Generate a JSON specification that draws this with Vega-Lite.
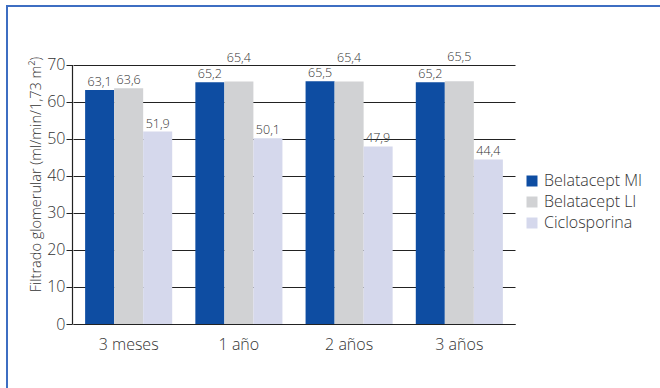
{
  "$schema": "https://vega.github.io/schema/vega-lite/v6.json",
  "autosize": "none",
  "padding": {"left": 7, "top": 6, "right": -6, "bottom": -6},
  "width": 659,
  "height": 388,
  "config": {
    "font": "Open Sans",
    "view": {"stroke": "#3D6EC2", "strokeWidth": 2},
    "locale": {
      "number": {"decimal": ",", "thousands": ".", "grouping": [3], "currency": ["", " €"]}
    }
  },
  "data": {
    "values": [
      {"periodo": "3 meses", "grupo": "Belatacept MI", "valor": 63.1},
      {"periodo": "3 meses", "grupo": "Belatacept LI", "valor": 63.6},
      {"periodo": "3 meses", "grupo": "Ciclosporina", "valor": 51.9},
      {"periodo": "1 año", "grupo": "Belatacept MI", "valor": 65.2},
      {"periodo": "1 año", "grupo": "Belatacept LI", "valor": 65.4},
      {"periodo": "1 año", "grupo": "Ciclosporina", "valor": 50.1},
      {"periodo": "2 años", "grupo": "Belatacept MI", "valor": 65.5},
      {"periodo": "2 años", "grupo": "Belatacept LI", "valor": 65.4},
      {"periodo": "2 años", "grupo": "Ciclosporina", "valor": 47.9},
      {"periodo": "3 años", "grupo": "Belatacept MI", "valor": 65.2},
      {"periodo": "3 años", "grupo": "Belatacept LI", "valor": 65.5},
      {"periodo": "3 años", "grupo": "Ciclosporina", "valor": 44.4}
    ]
  },
  "encoding": {
    "x": {
      "field": "periodo",
      "type": "nominal",
      "sort": ["3 meses", "1 año", "2 años", "3 años"],
      "scale": {"range": [66, 508], "paddingInner": 0.21, "paddingOuter": 0.11},
      "axis": {
        "title": null,
        "labelAngle": 0,
        "ticks": false,
        "grid": false,
        "offset": -70,
        "domainColor": "#222222",
        "domainWidth": 1.2,
        "labelFontSize": 16,
        "labelFontWeight": 300,
        "labelColor": "#333333",
        "labelPadding": 12
      }
    },
    "xOffset": {
      "field": "grupo",
      "sort": ["Belatacept MI", "Belatacept LI", "Ciclosporina"],
      "scale": {"paddingInner": 0, "paddingOuter": 0}
    },
    "y": {
      "field": "valor",
      "type": "quantitative",
      "scale": {"domain": [0, 70], "range": [318, 58.5], "nice": false, "zero": true},
      "axis": {
        "values": [0, 10, 20, 30, 40, 50, 60, 70],
        "offset": -65,
        "grid": true,
        "gridColor": "#222222",
        "gridWidth": 1.2,
        "domainColor": "#222222",
        "domainWidth": 1.2,
        "tickColor": "#222222",
        "tickSize": 6,
        "labelFontSize": 16,
        "labelFontWeight": 300,
        "labelColor": "#333333",
        "labelPadding": 1,
        "title": "Filtrado glomerular (ml/min/1,73 m²)",
        "titleFontSize": 14.5,
        "titleFontWeight": 300,
        "titleColor": "#333333",
        "titleX": -36,
        "titleY": 168,
        "titleAngle": -90,
        "titleAlign": "center",
        "titleBaseline": "middle"
      }
    }
  },
  "layer": [
    {
      "mark": {"type": "bar"},
      "encoding": {
        "color": {
          "field": "grupo",
          "type": "nominal",
          "sort": ["Belatacept MI", "Belatacept LI", "Ciclosporina"],
          "scale": {
            "domain": ["Belatacept MI", "Belatacept LI", "Ciclosporina"],
            "range": ["#0E4DA2", "#D1D2D4", "#D5D8EC"]
          },
          "legend": {
            "title": null,
            "orient": "none",
            "legendX": 517,
            "legendY": 167,
            "symbolType": "square",
            "symbolSize": 121,
            "symbolStrokeWidth": 0,
            "labelFontSize": 16,
            "labelFontWeight": 300,
            "labelColor": "#333333",
            "labelOffset": 4,
            "rowPadding": 5
          }
        }
      }
    },
    {
      "transform": [
        {"filter": "!(datum.grupo === 'Belatacept LI' && datum.periodo !== '3 meses')"}
      ],
      "mark": {"type": "text", "baseline": "alphabetic", "dy": -4, "fontSize": 12.5, "fontWeight": 300, "color": "#333333"},
      "encoding": {
        "text": {"field": "valor", "type": "quantitative", "format": ".1f"}
      }
    },
    {
      "transform": [
        {"filter": "datum.grupo === 'Belatacept LI' && datum.periodo !== '3 meses'"}
      ],
      "mark": {"type": "text", "baseline": "alphabetic", "dy": -20, "fontSize": 12.5, "fontWeight": 300, "color": "#333333"},
      "encoding": {
        "text": {"field": "valor", "type": "quantitative", "format": ".1f"}
      }
    }
  ]
}
